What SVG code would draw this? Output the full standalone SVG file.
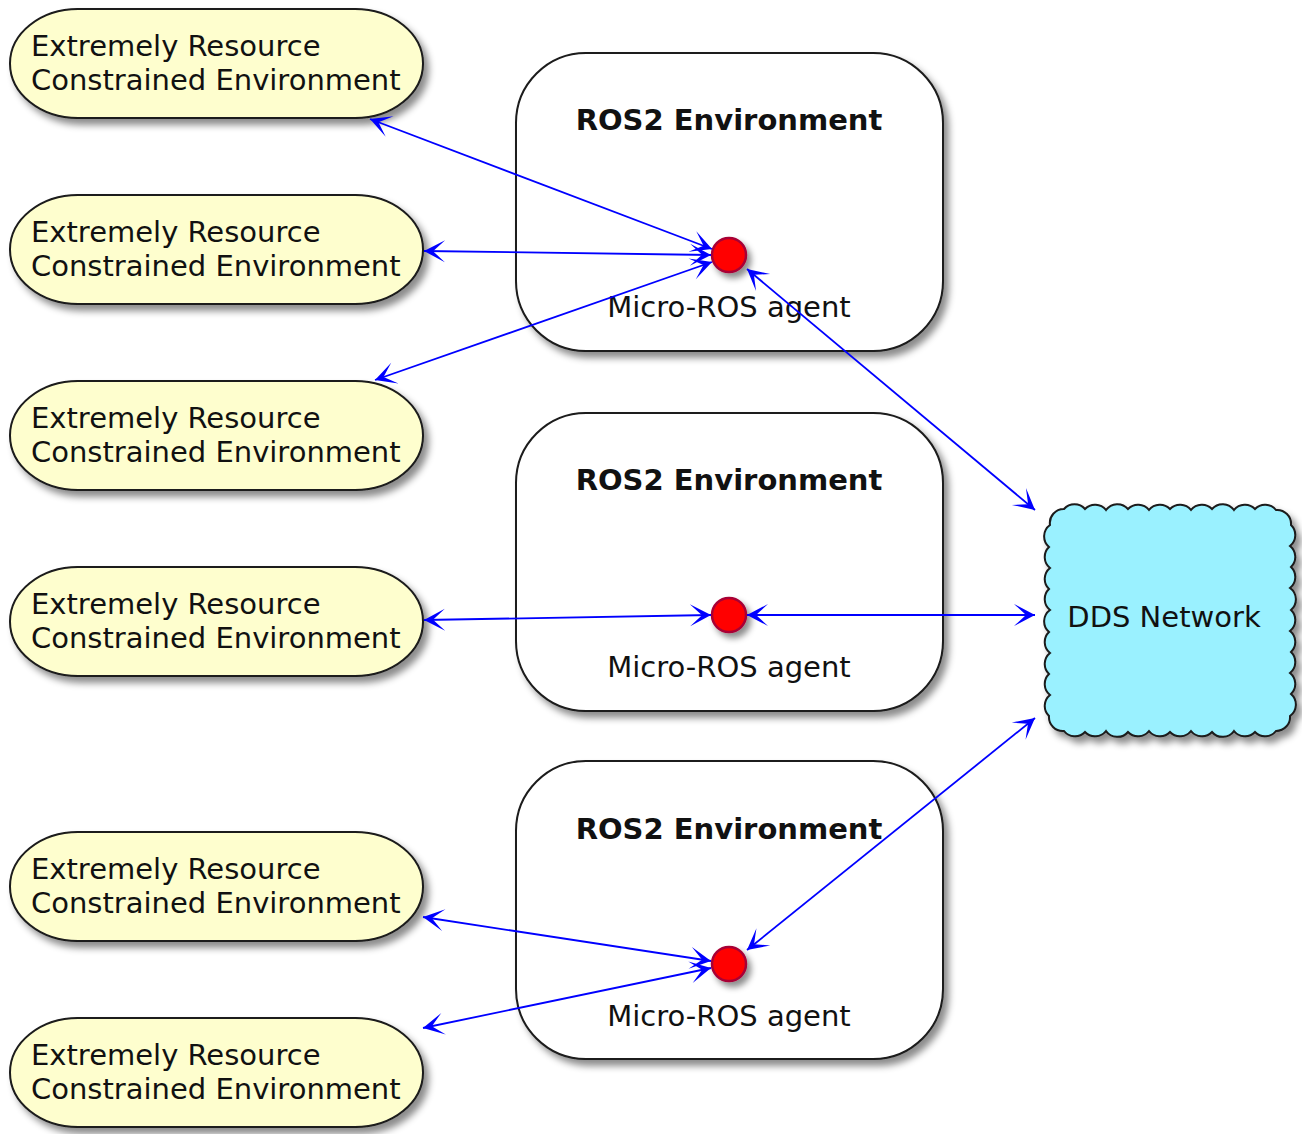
<svg xmlns="http://www.w3.org/2000/svg" width="1302" height="1134" viewBox="0 0 1302 1134">
<style>
text{font-family:"DejaVu Sans","Liberation Sans",sans-serif;fill:#111}
.lbl{font-size:29px}
.title{font-size:29px;font-weight:bold;text-anchor:middle}
.mid{text-anchor:middle}
.ext{fill:#FEFECE;stroke:#1a1a1a;stroke-width:2}
.env{fill:#FFFFFF;stroke:#1a1a1a;stroke-width:2}
.agent{fill:#FF0000;stroke:#A80036;stroke-width:2.5}
.cloud{fill:#9AF1FF;stroke:#1a1a1a;stroke-width:2}
.conn line{stroke:#0000FF;stroke-width:1.8;marker-start:url(#ah);marker-end:url(#ah)}
</style>
<defs>
<filter id="sh" x="-20%" y="-20%" width="140%" height="140%">
<feGaussianBlur in="SourceAlpha" stdDeviation="3.5"/>
<feOffset dx="5" dy="6" result="b"/>
<feFlood flood-color="#000" flood-opacity="0.45"/>
<feComposite in2="b" operator="in"/>
<feMerge><feMergeNode/><feMergeNode in="SourceGraphic"/></feMerge>
</filter>
<filter id="shc" x="-80%" y="-80%" width="260%" height="260%">
<feGaussianBlur in="SourceAlpha" stdDeviation="3"/>
<feOffset dx="4" dy="5" result="b"/>
<feFlood flood-color="#000" flood-opacity="0.45"/>
<feComposite in2="b" operator="in"/>
<feMerge><feMergeNode/><feMergeNode in="SourceGraphic"/></feMerge>
</filter>
<marker id="ah" viewBox="-22 -12 24 24" refX="0" refY="0" markerWidth="24" markerHeight="24" markerUnits="userSpaceOnUse" orient="auto-start-reverse">
<path d="M0,0 L-21,-11 L-9,0 L-21,11 Z" fill="#0000FF"/>
</marker>
</defs>

<g id="env1">
<rect class="env" x="516" y="53" width="427" height="298" rx="70" ry="70" filter="url(#sh)"/>
<text class="title" x="729" y="130">ROS2 Environment</text>
</g>
<g id="env2">
<rect class="env" x="516" y="413" width="427" height="298" rx="70" ry="70" filter="url(#sh)"/>
<text class="title" x="729" y="490">ROS2 Environment</text>
</g>
<g id="env3">
<rect class="env" x="516" y="761" width="427" height="298" rx="70" ry="70" filter="url(#sh)"/>
<text class="title" x="729" y="839">ROS2 Environment</text>
</g>

<g id="ext1">
<rect class="ext" x="10" y="9" width="413" height="109" rx="68" ry="54.5" filter="url(#sh)"/>
<text class="lbl" x="31" y="56">Extremely Resource</text>
<text class="lbl" x="31" y="90">Constrained Environment</text>
</g>
<g id="ext2">
<rect class="ext" x="10" y="195" width="413" height="109" rx="68" ry="54.5" filter="url(#sh)"/>
<text class="lbl" x="31" y="242">Extremely Resource</text>
<text class="lbl" x="31" y="276">Constrained Environment</text>
</g>
<g id="ext3">
<rect class="ext" x="10" y="381" width="413" height="109" rx="68" ry="54.5" filter="url(#sh)"/>
<text class="lbl" x="31" y="428">Extremely Resource</text>
<text class="lbl" x="31" y="462">Constrained Environment</text>
</g>
<g id="ext4">
<rect class="ext" x="10" y="567" width="413" height="109" rx="68" ry="54.5" filter="url(#sh)"/>
<text class="lbl" x="31" y="614">Extremely Resource</text>
<text class="lbl" x="31" y="648">Constrained Environment</text>
</g>
<g id="ext5">
<rect class="ext" x="10" y="832" width="413" height="109" rx="68" ry="54.5" filter="url(#sh)"/>
<text class="lbl" x="31" y="879">Extremely Resource</text>
<text class="lbl" x="31" y="913">Constrained Environment</text>
</g>
<g id="ext6">
<rect class="ext" x="10" y="1018" width="413" height="109" rx="68" ry="54.5" filter="url(#sh)"/>
<text class="lbl" x="31" y="1065">Extremely Resource</text>
<text class="lbl" x="31" y="1099">Constrained Environment</text>
</g>

<g id="agent1">
<circle class="agent" cx="729" cy="255" r="17" filter="url(#shc)"/>
<text class="lbl mid" x="729" y="317">Micro-ROS agent</text>
</g>
<g id="agent2">
<circle class="agent" cx="729" cy="615" r="17" filter="url(#shc)"/>
<text class="lbl mid" x="729" y="677">Micro-ROS agent</text>
</g>
<g id="agent3">
<circle class="agent" cx="729" cy="964" r="17" filter="url(#shc)"/>
<text class="lbl mid" x="729" y="1026">Micro-ROS agent</text>
</g>

<g id="dds">
<path class="cloud" filter="url(#sh)" d="M1064,509
A14,14 0 0 1 1085,509 A14,14 0 0 1 1106,510 A14,14 0 0 1 1128,509 A14,14 0 0 1 1149,510 A14,14 0 0 1 1170,509 A14,14 0 0 1 1191,510 A14,14 0 0 1 1212,509 A14,14 0 0 1 1234,510 A14,14 0 0 1 1255,509 A14,14 0 0 1 1276,510
A14,14 0 0 1 1291,525
A14,14 0 0 1 1290,546 A14,14 0 0 1 1291,567 A14,14 0 0 1 1290,588 A14,14 0 0 1 1291,610 A14,14 0 0 1 1290,631 A14,14 0 0 1 1291,652 A14,14 0 0 1 1290,673 A14,14 0 0 1 1291,694 A14,14 0 0 1 1290,716
A14,14 0 0 1 1276,731
A14,14 0 0 1 1255,732 A14,14 0 0 1 1234,731 A14,14 0 0 1 1212,732 A14,14 0 0 1 1191,731 A14,14 0 0 1 1170,732 A14,14 0 0 1 1149,731 A14,14 0 0 1 1128,732 A14,14 0 0 1 1106,731 A14,14 0 0 1 1085,732 A14,14 0 0 1 1064,731
A14,14 0 0 1 1049,716
A14,14 0 0 1 1050,695 A14,14 0 0 1 1049,674 A14,14 0 0 1 1050,653 A14,14 0 0 1 1049,632 A14,14 0 0 1 1050,610 A14,14 0 0 1 1049,589 A14,14 0 0 1 1050,568 A14,14 0 0 1 1049,547 A14,14 0 0 1 1050,525
A14,14 0 0 1 1064,509 Z"/>
<text class="lbl mid" x="1164" y="627">DDS Network</text>
</g>

<g id="connectors" class="conn">
<line x1="370" y1="119" x2="712" y2="249"/>
<line x1="424" y1="251" x2="711" y2="255"/>
<line x1="375" y1="380" x2="712" y2="262"/>
<line x1="747" y1="269" x2="1035" y2="510"/>
<line x1="424" y1="620" x2="711" y2="615"/>
<line x1="747" y1="615" x2="1035" y2="615"/>
<line x1="423" y1="917" x2="711" y2="961"/>
<line x1="423" y1="1028" x2="711" y2="968"/>
<line x1="747" y1="950" x2="1035" y2="718"/>
</g>
</svg>
